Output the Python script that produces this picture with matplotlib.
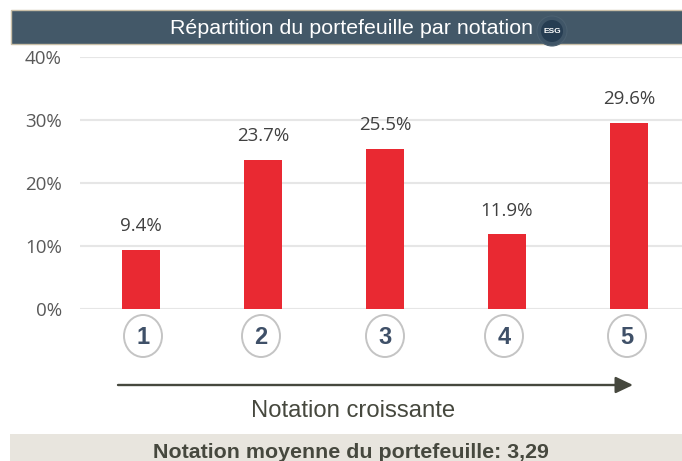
import matplotlib.pyplot as plt
from matplotlib.patches import Rectangle, Ellipse

W, H = 682, 461

ratings = [1, 2, 3, 4, 5]
shares = [9.4, 23.7, 25.5, 11.9, 29.6]
share_labels = ['9.4%', '23.7%', '25.5%', '11.9%', '29.6%']
yticks = [0, 10, 20, 30, 40]
ytick_labels = ['0%', '10%', '20%', '30%', '40%']
title = 'Répartition du portefeuille par notation'
arrow_label = 'Notation croissante'
footer = 'Notation moyenne du portefeuille: 3,29'

plt.rcParams['font.family'] = ['Liberation Sans', 'DejaVu Sans']

fig = plt.figure(figsize=(W / 100, H / 100), dpi=100, facecolor='white')

ax = fig.add_axes([80 / W, 1 - 309 / H, (W - 80) / W, 251.5 / H])
ax.bar(ratings, shares, width=38 / 122, color='#E92932', zorder=3)
ax.set_xlim(0.5, 1 + (W - 141) / 122)
ax.set_ylim(0, 40)
ax.set_yticks(yticks)
ax.set_yticklabels(ytick_labels, fontsize=13.5, color='#595959', family=['Open Sans', 'DejaVu Sans'])
ax.set_xticks([])
ax.tick_params(axis='y', length=0, pad=13)
ax.grid(axis='y', color='#E6E6E6', linewidth=1.5, zorder=0)
ax.set_axisbelow(True)
for s in ax.spines.values():
    s.set_visible(False)
for r, v, lab in zip(ratings, shares, share_labels):
    ax.annotate(lab, (r, v), xytext=(0, 10.5), textcoords='offset points', ha='center',
                va='bottom', fontsize=13.5, color='#404040', family=['Open Sans', 'DejaVu Sans'])

# overlay in pixel coordinates for header, circles, arrow and footer
ov = fig.add_axes([0, 0, 1, 1], facecolor='none')
ov.set_xlim(0, W)
ov.set_ylim(H, 0)
ov.axis('off')

ov.add_patch(Rectangle((10.5, 10.5), W, 33.5, facecolor='#435868', edgecolor='#C9BFA8', linewidth=1))
ov.text(351, 28.5, title, color='white', fontsize=15.4, ha='center', va='center')
ov.add_patch(Ellipse((552, 31), 30, 30, facecolor='#3F5567', edgecolor='#4B6070', linewidth=0.8))
ov.add_patch(Ellipse((552, 31), 22, 22, facecolor='#263D52', edgecolor='none'))
ov.text(552, 31.5, 'ESG', color='white', fontsize=6, fontweight='bold', ha='center', va='center')

circle_x = [143, 261, 385, 504, 627]
for r, cx in zip(ratings, circle_x):
    ov.add_patch(Ellipse((cx, 336), 38, 42, facecolor='white', edgecolor='#C4C4C4', linewidth=1.4))
    ov.text(cx, 337, str(r), color='#3F5068', fontsize=17, fontweight='bold', ha='center', va='center')

ov.annotate('', xy=(633, 385), xytext=(118, 385),
            arrowprops=dict(arrowstyle='-|>,head_length=1.05,head_width=0.5', color='#46483E',
                            linewidth=1.7, shrinkA=0, shrinkB=0, mutation_scale=10))
ov.text(353, 411, arrow_label, color='#46483E', fontsize=17.2, ha='center', va='center')

ov.add_patch(Rectangle((10, 434), W - 10, 27, facecolor='#E8E5DE', edgecolor='none'))
ov.text(351, 458, footer, color='#46483E', fontsize=15.4, fontweight='bold', ha='center', va='baseline')

fig.savefig('out.png', dpi=100)
